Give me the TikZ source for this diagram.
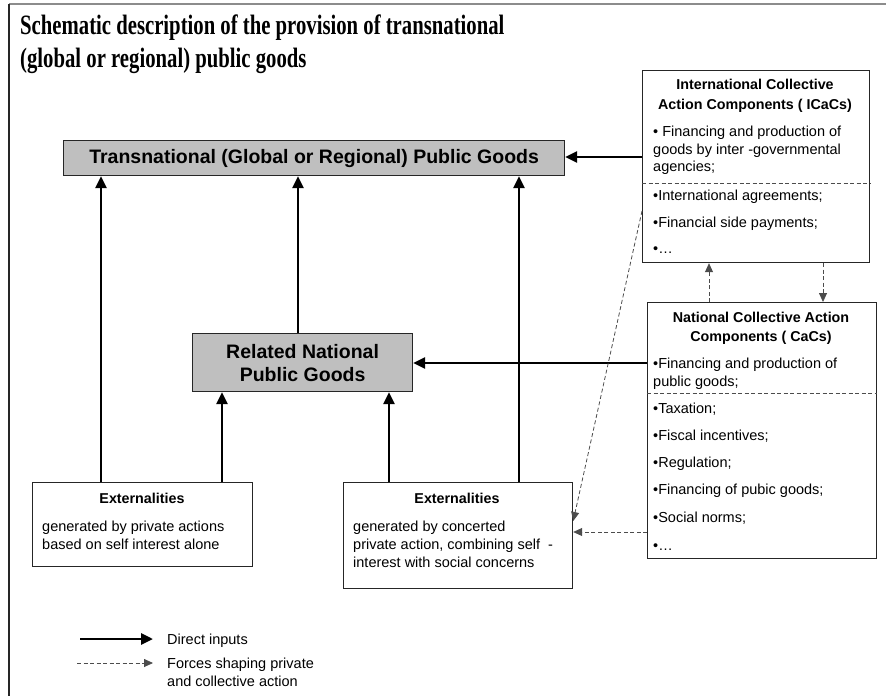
\documentclass[tikz,border=0pt]{standalone}
\usepackage{fontspec}
\setmainfont{Liberation Sans}
\newfontfamily\titlefont{Liberation Serif}
\usetikzlibrary{arrows.meta}
\tikzset{
  box/.style={draw=black!85, line width=1.2pt, inner sep=0pt, anchor=north west},
  gbox/.style={box, fill=black!25},
  direct/.style={line width=2.8pt, -{Triangle[length=12pt,width=11pt]}},
  force/.style={black!70, line width=0.8pt, dash pattern=on 4pt off 2.5pt, -{Triangle[length=9pt,width=8pt]}},
  sep/.style={black!70, line width=0.8pt, dash pattern=on 4pt off 2.5pt},
  txt/.style={anchor=base west, inner sep=0pt, font=\fontsize{14.5}{17}\selectfont},
  btxt/.style={anchor=base, inner sep=0pt, font=\bfseries\fontsize{14.3}{17}\selectfont},
  big/.style={anchor=center, inner sep=0pt, align=center, font=\bfseries\fontsize{19.5}{23}\selectfont},
  ttl/.style={anchor=base west, inner sep=0pt, font=\titlefont\bfseries\fontsize{28}{32}\selectfont}
}
\begin{document}
\begin{tikzpicture}[x=1pt,y=-1pt]
\useasboundingbox (0,0) rectangle (886,696);
% frame
\draw[black!45, line width=2pt] (9,4) -- (886,4);
\draw[black!85, line width=1.4pt] (9,4) -- (9,696);
% title
\node[ttl] (t1) at (20,34) {\scalebox{0.74}[1]{Schematic description of the provision of transnational}};
\node[ttl] (t2) at (20,67) {\scalebox{0.74}[1]{(global or regional) public goods}};
% main boxes
\node[gbox, minimum width=501pt, minimum height=35pt] (tn) at (63,140) {};
\node[big] (tntext) at (tn.center) {Transnational (Global or Regional) Public Goods};
\node[gbox, minimum width=220pt, minimum height=58pt] (rn) at (192,333) {};
\node[big] (rntext) at (rn.center) {Related National\\Public Goods};
% ICaCs
\node[box, minimum width=227pt, minimum height=192pt] (ica) at (642,70) {};
\node[btxt] (ia1) at (755,89) {International Collective};
\node[btxt] (ia2) at (755,109) {Action Components ( ICaCs)};
\node[txt] (ia3) at (653,136) {• Financing and production of};
\node[txt] (ia4) at (653,154) {goods by inter -governmental};
\node[txt] (ia5) at (653,171) {agencies;};
\draw[sep] (ica.west |- 0,183) -- (ica.east |- 0,183);
\node[txt] (ia6) at (653,200) {•International agreements;};
\node[txt] (ia7) at (653,227) {•Financial side payments;};
\node[txt] (ia8) at (653,253) {•…};
% NCaCs
\node[box, minimum width=229pt, minimum height=256pt] (nca) at (647,302) {};
\node[btxt] (na1) at (761,322) {National Collective Action};
\node[btxt] (na2) at (761,341) {Components ( CaCs)};
\node[txt] (na3) at (653,368) {•Financing and production of};
\node[txt] (na4) at (653,386) {public goods;};
\draw[sep] (nca.west |- 0,393) -- (nca.east |- 0,393);
\node[txt] (na5) at (653,413) {•Taxation;};
\node[txt] (na6) at (653,440) {•Fiscal incentives;};
\node[txt] (na7) at (653,467) {•Regulation;};
\node[txt] (na8) at (653,494) {•Financing of pubic goods;};
\node[txt] (na9) at (653,522) {•Social norms;};
\node[txt] (na10) at (653,550) {•…};
% Externalities
\node[box, minimum width=220pt, minimum height=84pt] (ext1) at (32,482) {};
\node[btxt] (e1a) at (142,503) {Externalities};
\node[txt] (e1b) at (42,531) {generated by private actions};
\node[txt] (e1c) at (42,549) {based on self interest alone};
\node[box, minimum width=229pt, minimum height=106pt] (ext2) at (343,482) {};
\node[btxt] (e2a) at (457,503) {Externalities};
\node[txt] (e2b) at (353,531) {generated by concerted};
\node[txt] (e2c) at (353,549) {private action, combining self \ -};
\node[txt] (e2d) at (353,567) {interest with social concerns};
% connector columns/rows
\coordinate (c1) at (101,0);
\coordinate (c2) at (222,0);
\coordinate (c3) at (389,0);
\coordinate (c4) at (519,0);
\coordinate (c5) at (298,0);
\coordinate (c6) at (0,157);
\coordinate (c7) at (0,363);
\coordinate (c8) at (709,0);
\coordinate (c9) at (823,0);
\coordinate (c10) at (0,211);
\coordinate (c11) at (0,521);
\coordinate (c12) at (0,532);
% direct inputs
\draw[direct] (ext1.north -| c1) -- (tn.south -| c1);
\draw[direct] (ext1.north -| c2) -- (rn.south -| c2);
\draw[direct] (ext2.north -| c3) -- (rn.south -| c3);
\draw[direct] (ext2.north -| c4) -- (tn.south -| c4);
\draw[direct] (rn.north -| c5) -- (tn.south -| c5);
\draw[direct] (ica.west |- c6) -- (tn.east |- c6);
\draw[direct] (nca.west |- c7) -- (rn.east |- c7);
% forces
\draw[force] (nca.north -| c8) -- (ica.south -| c8);
\draw[force] (ica.south -| c9) -- (nca.north -| c9);
\draw[force] (ica.west |- c10) -- (ext2.east |- c11);
\draw[force] (nca.west |- c12) -- (ext2.east |- c12);
% legend
\coordinate (l1a) at (80,639);
\coordinate (l1b) at (153,639);
\coordinate (l2a) at (77,663);
\coordinate (l2b) at (153,663);
\draw[direct] (l1a) -- (l1b);
\draw[force] (l2a) -- (l2b);
\node[txt] (lg1) at (167,644) {Direct inputs};
\node[txt] (lg2) at (167,668) {Forces shaping private};
\node[txt] (lg3) at (167,686) {and collective action};
\end{tikzpicture}
\end{document}
